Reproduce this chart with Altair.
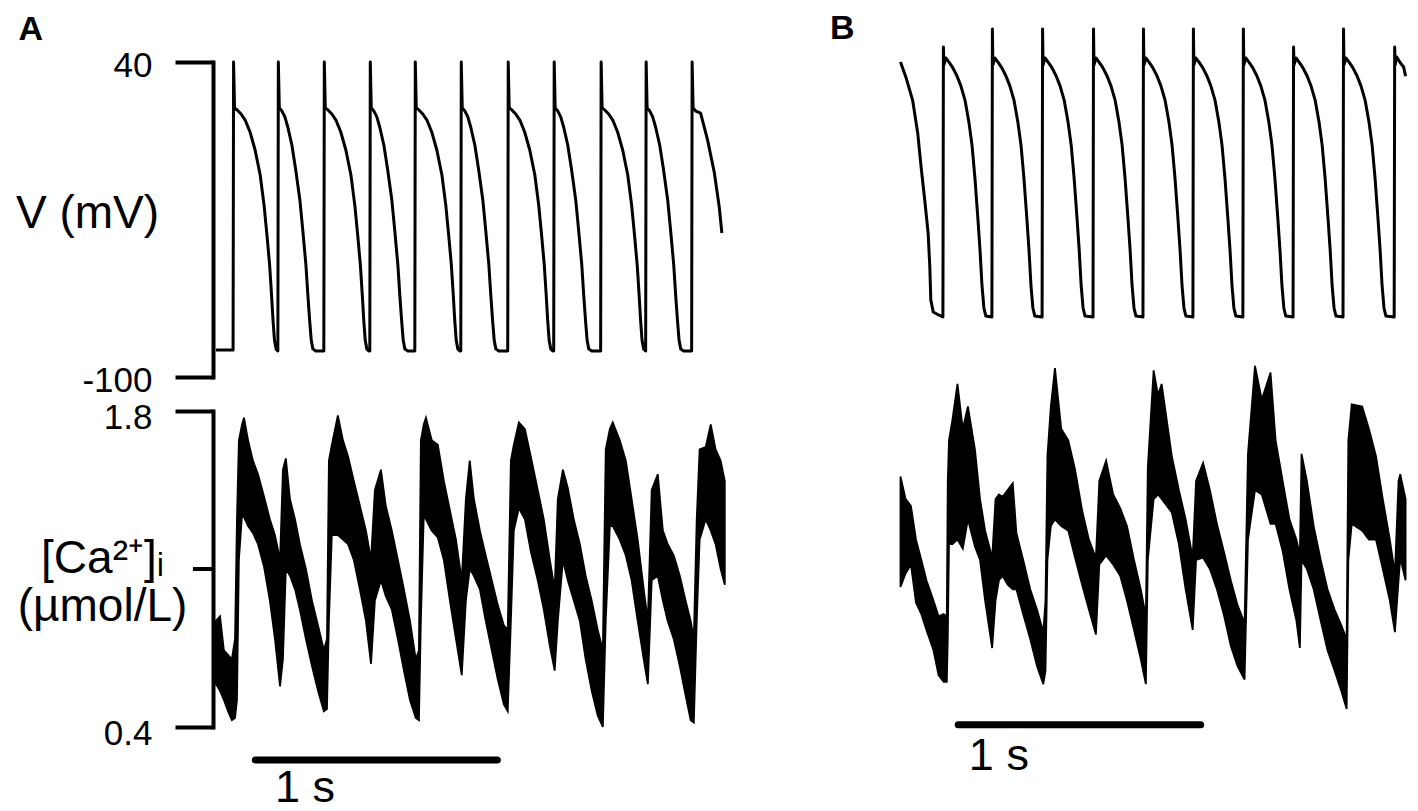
import altair as alt
import pandas as pd

FONT = "Liberation Sans"

# ---------------- Panel A : membrane potential (time in ms, V in mV) ----------------
va_t = [12,
        83, 85, 89, 100, 116, 133, 153, 174, 195, 211, 223, 234, 242, 248, 254, 261,
        268, 270, 274, 285, 297, 309, 326, 342, 359, 371, 384, 392, 400, 406, 413, 425,
        458, 460, 464, 475, 491, 508, 528, 549, 570, 586, 598, 609, 617, 623, 629, 636, 644,
        648, 650, 654, 665, 677, 689, 706, 722, 739, 751, 764, 772, 780, 786, 793, 805,
        834, 836, 840, 851, 867, 884, 904, 925, 946, 962, 974, 985, 993, 999, 1005, 1012, 1020,
        1024, 1026, 1030, 1041, 1053, 1065, 1082, 1098, 1115, 1127, 1140, 1148, 1156, 1162, 1169, 1181,
        1218, 1220, 1224, 1235, 1251, 1268, 1288, 1309, 1330, 1346, 1358, 1369, 1377, 1383, 1389, 1396, 1404,
        1408, 1410, 1414, 1425, 1437, 1449, 1466, 1482, 1499, 1511, 1524, 1532, 1540, 1546, 1553, 1565,
        1602, 1604, 1608, 1619, 1635, 1652, 1672, 1693, 1714, 1730, 1742, 1753, 1761, 1767, 1773, 1780,
        1788, 1790, 1794, 1805, 1817, 1829, 1846, 1862, 1879, 1891, 1904, 1912, 1920, 1926, 1933, 1945,
        1978, 1980, 1984, 1995, 2015, 2044, 2072, 2092, 2103]
va_v = [-88,
        -88, 40, 19.6, 18.7, 16.9, 14.2, 8.9, 0.9, -10.2, -23.6, -36.9, -50.2, -63.6, -74.7, -83.6, -87.6,
        -88.4, 40, 19.6, 18.2, 15.6, 11.1, 3.1, -8, -21.3, -34.7, -50.2, -63.6, -75.6, -83.6, -87.6, -88.4,
        -88.4, 40, 19.6, 18.7, 16.9, 14.2, 8.9, 0.9, -10.2, -23.6, -36.9, -50.2, -63.6, -74.7, -83.6, -87.6, -88.4,
        -88.4, 40, 19.6, 18.2, 15.6, 11.1, 3.1, -8, -21.3, -34.7, -50.2, -63.6, -75.6, -83.6, -87.6, -88.4,
        -88.4, 40, 19.6, 18.7, 16.9, 14.2, 8.9, 0.9, -10.2, -23.6, -36.9, -50.2, -63.6, -74.7, -83.6, -87.6, -88.4,
        -88.4, 40, 19.6, 18.2, 15.6, 11.1, 3.1, -8, -21.3, -34.7, -50.2, -63.6, -75.6, -83.6, -87.6, -88.4,
        -88.4, 40, 19.6, 18.7, 16.9, 14.2, 8.9, 0.9, -10.2, -23.6, -36.9, -50.2, -63.6, -74.7, -83.6, -87.6, -88.4,
        -88.4, 40, 19.6, 18.2, 15.6, 11.1, 3.1, -8, -21.3, -34.7, -50.2, -63.6, -75.6, -83.6, -87.6, -88.4,
        -88.4, 40, 19.6, 18.7, 16.9, 14.2, 8.9, 0.9, -10.2, -23.6, -36.9, -50.2, -63.6, -74.7, -83.6, -87.6,
        -88.4, 40, 19.6, 18.2, 15.6, 11.1, 3.1, -8, -21.3, -34.7, -50.2, -63.6, -75.6, -83.6, -87.6, -88.4,
        -88.4, 40, 19.6, 18.2, 17.3, 5.3, -9.3, -24.4, -36]

# ---------------- Panel A : [Ca2+]i noisy band (ms, upper / lower edge in umol/L) ----------------
ca_a_t = [12, 29, 45, 62, 78, 91, 99, 107, 120, 128,
          145, 165, 186, 211, 235, 256, 277, 289, 301, 318,
          339, 359, 384, 409, 434, 458, 471, 479, 491, 516,
          537, 558, 582, 607, 632, 653, 669, 694, 714, 739,
          764, 789, 814, 838, 851, 859, 871, 880, 904, 929,
          954, 979, 1004, 1028, 1045, 1061, 1078, 1103, 1127, 1152,
          1177, 1202, 1218, 1231, 1243, 1264, 1289, 1313, 1342, 1367,
          1392, 1412, 1425, 1446, 1466, 1491, 1516, 1540, 1565, 1590,
          1611, 1623, 1640, 1652, 1681, 1706, 1730, 1755, 1780, 1797,
          1813, 1838, 1859, 1879, 1904, 1929, 1953, 1974, 1987, 1999,
          2011, 2036, 2057, 2077, 2098, 2115]
ca_a_hi = [0.87, 0.89, 0.74, 0.72, 0.70, 0.79, 1.32, 1.67, 1.74, 1.77,
           1.67, 1.58, 1.52, 1.42, 1.32, 1.25, 1.14, 1.54, 1.59, 1.41,
           1.32, 1.21, 1.10, 0.96, 0.85, 0.74, 0.79, 1.58, 1.65, 1.78,
           1.67, 1.60, 1.49, 1.38, 1.27, 1.14, 1.45, 1.54, 1.38, 1.27,
           1.14, 1.01, 0.87, 0.70, 0.74, 1.67, 1.74, 1.77, 1.67, 1.65,
           1.49, 1.36, 1.23, 1.05, 1.41, 1.58, 1.41, 1.27, 1.16, 1.05,
           0.94, 0.85, 0.83, 1.58, 1.65, 1.75, 1.72, 1.60, 1.45, 1.32,
           1.14, 1.01, 1.41, 1.54, 1.46, 1.32, 1.21, 1.07, 0.96, 0.83,
           0.74, 1.63, 1.72, 1.75, 1.67, 1.58, 1.41, 1.23, 1.01, 0.87,
           1.45, 1.52, 1.27, 1.21, 1.16, 1.07, 0.96, 0.87, 0.79, 1.32,
           1.63, 1.64, 1.74, 1.63, 1.58, 1.49]
ca_a_lo = [0.59, 0.56, 0.52, 0.47, 0.43, 0.44, 0.52, 1.14, 1.34, 1.33,
           1.29, 1.26, 1.21, 1.11, 0.96, 0.79, 0.58, 0.70, 1.10, 1.07,
           1.01, 0.92, 0.79, 0.67, 0.56, 0.47, 0.48, 0.87, 1.25, 1.25,
           1.23, 1.21, 1.14, 1.01, 0.87, 0.68, 0.96, 1.05, 0.98, 0.92,
           0.79, 0.65, 0.52, 0.44, 0.43, 0.87, 1.34, 1.32, 1.27, 1.24,
           1.14, 0.96, 0.79, 0.63, 0.96, 1.10, 1.07, 1.01, 0.87, 0.74,
           0.61, 0.50, 0.47, 0.87, 1.27, 1.37, 1.32, 1.18, 1.05, 0.92,
           0.76, 0.65, 0.87, 1.14, 1.05, 0.96, 0.87, 0.70, 0.56, 0.45,
           0.40, 0.87, 1.29, 1.29, 1.23, 1.16, 1.05, 0.87, 0.70, 0.59,
           1.05, 1.07, 0.96, 0.87, 0.79, 0.67, 0.54, 0.43, 0.42, 0.87,
           1.23, 1.32, 1.27, 1.21, 1.10, 1.03]

# ---------------- Panel B : membrane potential (ms, mV) ----------------
vb_t = [2, 24, 52, 73, 87, 102, 116, 123, 127, 137, 159,
        177, 179, 181, 189, 202, 218, 235, 251, 268, 284, 297, 309, 321, 330, 338, 346, 354,
        379, 381, 383, 391, 404, 420, 437, 453, 470, 486, 499, 511, 523, 532, 540, 548, 556,
        586, 588, 590, 598, 611, 627, 644, 660, 677, 693, 706, 718, 730, 739, 747, 755, 763,
        796, 798, 800, 808, 821, 837, 854, 870, 887, 903, 916, 928, 940, 949, 957, 965, 973,
        1002, 1004, 1006, 1014, 1027, 1043, 1060, 1076, 1093, 1109, 1122, 1134, 1146, 1155, 1163, 1171, 1179,
        1208, 1210, 1212, 1220, 1233, 1249, 1266, 1282, 1299, 1315, 1328, 1340, 1352, 1361, 1369, 1377, 1385,
        1414, 1416, 1418, 1426, 1439, 1455, 1472, 1488, 1505, 1521, 1534, 1546, 1558, 1567, 1575, 1583, 1591,
        1621, 1623, 1625, 1633, 1646, 1662, 1679, 1695, 1712, 1728, 1741, 1753, 1765, 1774, 1782, 1790, 1798,
        1827, 1829, 1831, 1839, 1852, 1868, 1885, 1901, 1918, 1934, 1947, 1959, 1971, 1980, 1988, 1996, 2004,
        2038, 2040, 2042, 2048, 2063, 2077, 2085]
vb_v = [25.3, 18.7, 8.4, -6.2, -21.3, -36, -50.7, -65.8, -80.4, -85.8, -87.1,
        -88, 32, 24, 27.1, 25.3, 22.7, 19.1, 14.7, 8.4, -1.3, -11.6, -26.2, -44, -58.2, -73.8, -84, -87.6,
        -88, 40, 24, 27.1, 25.3, 22.7, 19.1, 14.7, 8.4, -1.3, -11.6, -26.2, -44, -58.2, -73.8, -84, -87.6,
        -88, 40, 24, 27.1, 25.3, 22.7, 19.1, 14.7, 8.4, -1.3, -11.6, -26.2, -44, -58.2, -73.8, -84, -87.6,
        -88, 40, 24, 27.1, 25.3, 22.7, 19.1, 14.7, 8.4, -1.3, -11.6, -26.2, -44, -58.2, -73.8, -84, -87.6,
        -88, 40, 24, 27.1, 25.3, 22.7, 19.1, 14.7, 8.4, -1.3, -11.6, -26.2, -44, -58.2, -73.8, -84, -87.6,
        -88, 40, 24, 27.1, 25.3, 22.7, 19.1, 14.7, 8.4, -1.3, -11.6, -26.2, -44, -58.2, -73.8, -84, -87.6,
        -88, 40, 24, 27.1, 25.3, 22.7, 19.1, 14.7, 8.4, -1.3, -11.6, -26.2, -44, -58.2, -73.8, -84, -87.6,
        -88, 32, 24, 27.1, 25.3, 22.7, 19.1, 14.7, 8.4, -1.3, -11.6, -26.2, -44, -58.2, -73.8, -84, -87.6,
        -88, 40, 24, 27.1, 25.3, 22.7, 19.1, 14.7, 8.4, -1.3, -11.6, -26.2, -44, -58.2, -73.8, -84, -87.6,
        -88, 32, 24, 27.6, 25, 23.1, 19]

# ---------------- Panel B : [Ca2+]i noisy band (ms, umol/L) ----------------
ca_b_t = [2, 23, 45, 66, 88, 109, 138, 159, 180, 193,
          197, 202, 216, 237, 259, 280, 309, 330, 351, 380,
          394, 408, 423, 444, 465, 480, 508, 537, 565, 591,
          600, 608, 622, 639, 665, 694, 722, 751, 779, 808,
          822, 850, 879, 908, 936, 965, 993, 1014, 1022, 1046,
          1064, 1079, 1100, 1121, 1150, 1178, 1207, 1221, 1250, 1278,
          1307, 1335, 1364, 1392, 1421, 1435, 1464, 1492, 1528, 1549,
          1578, 1606, 1635, 1649, 1656, 1678, 1706, 1735, 1763, 1792,
          1820, 1842, 1849, 1863, 1906, 1934, 1963, 1991, 2020, 2041,
          2056, 2063, 2085]
ca_b_hi = [1.51, 1.41, 1.38, 1.23, 1.14, 1.05, 0.96, 0.89, 0.90, 0.89,
           1.49, 1.67, 1.76, 1.92, 1.72, 1.82, 1.63, 1.41, 1.27, 1.15,
           1.41, 1.43, 1.42, 1.45, 1.48, 1.26, 1.14, 1.01, 0.92, 0.82,
           0.96, 1.60, 1.82, 1.99, 1.72, 1.67, 1.54, 1.36, 1.23, 1.15,
           1.49, 1.58, 1.43, 1.37, 1.29, 1.14, 1.01, 0.89, 1.55, 1.98,
           1.87, 1.92, 1.76, 1.60, 1.45, 1.32, 1.15, 1.49, 1.57, 1.45,
           1.30, 1.18, 1.05, 0.94, 0.86, 1.61, 2.00, 1.85, 1.97, 1.67,
           1.49, 1.32, 1.23, 1.16, 1.61, 1.49, 1.29, 1.14, 1.01, 0.92,
           0.85, 0.79, 1.67, 1.83, 1.82, 1.72, 1.60, 1.41, 1.23, 1.08,
           1.49, 1.52, 1.41]
ca_b_lo = [1.02, 1.08, 1.12, 0.95, 0.90, 0.83, 0.74, 0.63, 0.60, 0.60,
           0.79, 1.21, 1.21, 1.23, 1.19, 1.32, 1.20, 1.14, 0.96, 0.75,
           0.96, 1.05, 1.07, 1.03, 1.01, 1.01, 0.90, 0.79, 0.67, 0.59,
           0.65, 1.14, 1.29, 1.32, 1.29, 1.27, 1.15, 1.03, 0.92, 0.81,
           1.12, 1.16, 1.12, 1.07, 0.96, 0.83, 0.70, 0.59, 1.14, 1.41,
           1.43, 1.41, 1.38, 1.35, 1.21, 1.01, 0.83, 1.14, 1.15, 1.10,
           1.01, 0.90, 0.76, 0.67, 0.61, 1.23, 1.45, 1.43, 1.30, 1.30,
           1.18, 1.01, 0.87, 0.75, 1.14, 1.10, 1.01, 0.87, 0.74, 0.65,
           0.56, 0.48, 1.14, 1.30, 1.27, 1.23, 1.23, 1.10, 0.96, 0.82,
           1.05, 1.15, 1.05]

# ---------------- axes and scale bars ----------------
v_ticks = [-100, 40]
ca_ticks = [0.4, 1.8]
ca_mid_tick = 1.1              # short unlabeled tick on the [Ca2+]i axis
ca_mid_tick_t = [-83, 0]       # its extent, left of the axis line (ms)
bar_a_t = [175, 1175]          # 1 s scale bar, panel A
bar_a_ca = 0.254
label_a = ("1 s", 256, 0.068)
bar_b_t = [240, 1240]          # 1 s scale bar, panel B
bar_b_ca = 0.41
label_b = ("1 s", 284, 0.21)

# ---------------- geometry ----------------
W_A, W_B = 513, 508
H_V, H_C = 315, 316
DOM_A = [0, 2120]
DOM_B = [0, 2095]
V_DOM_A = [-100, 40]
V_DOM_B = [-114.67, 25.33]     # trace B sits higher on the page
CA_DOM = [0.4, 1.8]

df_va = pd.DataFrame({"t": va_t, "v": va_v})
df_vb = pd.DataFrame({"t": vb_t, "v": vb_v})
df_ca_a = pd.DataFrame({"t": ca_a_t, "hi": ca_a_hi, "lo": ca_a_lo})
df_ca_b = pd.DataFrame({"t": ca_b_t, "hi": ca_b_hi, "lo": ca_b_lo})
df_bar_a = pd.DataFrame({"t1": [bar_a_t[0]], "t2": [bar_a_t[1]], "y": [bar_a_ca]})
df_bar_b = pd.DataFrame({"t1": [bar_b_t[0]], "t2": [bar_b_t[1]], "y": [bar_b_ca]})
df_mid = pd.DataFrame({"t1": [ca_mid_tick_t[0]], "t2": [ca_mid_tick_t[1]], "y": [ca_mid_tick]})
df_lab_a = pd.DataFrame({"label": [label_a[0]], "t": [label_a[1]], "y": [label_a[2]]})
df_lab_b = pd.DataFrame({"label": [label_b[0]], "t": [label_b[1]], "y": [label_b[2]]})


def xenc(field, dom):
    return alt.X(field, type="quantitative",
                 scale=alt.Scale(domain=dom, nice=False, zero=False), axis=None)


axis_common = dict(
    domainWidth=4, domainColor="black", domainCap="square",
    tickWidth=4, tickColor="black", tickSize=38,
    labelFont=FONT, labelFontSize=35, labelColor="black", labelPadding=23,
    labelExpr="toString(datum.value)",
    grid=False,
    titleFont=FONT, titleFontSize=46, titleFontWeight="normal", titleColor="black",
    titleAngle=0, titleAlign="center", titleBaseline="alphabetic",
)

v_axis = alt.Axis(values=v_ticks, title="V (mV)", titleX=-126, titleY=165,
                  labelOffset=3, **axis_common)

ca_axis = alt.Axis(values=ca_ticks,
                   title=["[Ca\u00b2\u207a]\u1d62", "(\u00b5mol/L)"], titleLineHeight=48,
                   titleX=-111, titleY=161, labelOffset=6, **axis_common)
ca_scale = alt.Scale(domain=CA_DOM, nice=False, zero=False)


def panel_title(txt, dx, dy):
    return alt.TitleParams(text=txt, anchor="start", font=FONT, fontSize=34, fontWeight="bold",
                           color="black", dx=dx, dy=dy, offset=0)


# ---- panel A ----
vA = alt.Chart(df_va).mark_line(color="black", strokeWidth=3, strokeJoin="round").encode(
    x=xenc("t", DOM_A),
    y=alt.Y("v:Q", scale=alt.Scale(domain=V_DOM_A, nice=False, zero=False), axis=v_axis),
).properties(width=W_A, height=H_V, title=panel_title("A", 3, -1))

bandA = alt.Chart(df_ca_a).mark_area(color="black", stroke="black", strokeWidth=1.8,
                                     strokeJoin="miter").encode(
    x=xenc("t", DOM_A),
    y=alt.Y("hi:Q", scale=ca_scale, axis=ca_axis),
    y2="lo:Q",
)
midA = alt.Chart(df_mid).mark_rule(color="black", strokeWidth=4).encode(
    x=xenc("t1", DOM_A), x2="t2:Q", y=alt.Y("y:Q", scale=ca_scale, axis=ca_axis))
barA = alt.Chart(df_bar_a).mark_rule(color="black", strokeWidth=7, strokeCap="round").encode(
    x=xenc("t1", DOM_A), x2="t2:Q", y=alt.Y("y:Q", scale=ca_scale, axis=ca_axis))
labA = alt.Chart(df_lab_a).mark_text(font=FONT, fontSize=45, align="left", baseline="alphabetic",
                                     color="black").encode(
    x=xenc("t", DOM_A), y=alt.Y("y:Q", scale=ca_scale, axis=ca_axis), text="label:N")
cA = alt.layer(bandA, midA, barA, labA).properties(width=W_A, height=H_C)

# ---- panel B ----
vB = alt.Chart(df_vb).mark_line(color="black", strokeWidth=3, strokeJoin="round").encode(
    x=xenc("t", DOM_B),
    y=alt.Y("v:Q", scale=alt.Scale(domain=V_DOM_B, nice=False, zero=False), axis=None),
).properties(width=W_B, height=H_V, title=panel_title("B", -69, 19))

bandB = alt.Chart(df_ca_b).mark_area(color="black", stroke="black", strokeWidth=1.8,
                                     strokeJoin="miter").encode(
    x=xenc("t", DOM_B),
    y=alt.Y("hi:Q", scale=ca_scale, axis=None),
    y2="lo:Q",
)
barB = alt.Chart(df_bar_b).mark_rule(color="black", strokeWidth=7, strokeCap="round").encode(
    x=xenc("t1", DOM_B), x2="t2:Q", y=alt.Y("y:Q", scale=ca_scale, axis=None))
labB = alt.Chart(df_lab_b).mark_text(font=FONT, fontSize=45, align="left", baseline="alphabetic",
                                     color="black").encode(
    x=xenc("t", DOM_B), y=alt.Y("y:Q", scale=ca_scale, axis=None), text="label:N")
cB = alt.layer(bandB, barB, labB).properties(width=W_B, height=H_C)

chart = alt.concat(vA, vB, cA, cB, columns=2, spacing={"row": 34, "column": 174},
                   bounds="flush").properties(
    padding={"left": 7, "top": 4, "right": 0, "bottom": 0}
).configure_view(stroke=None)

chart.save("out.html", embed_options={"renderer": "svg", "actions": False})
